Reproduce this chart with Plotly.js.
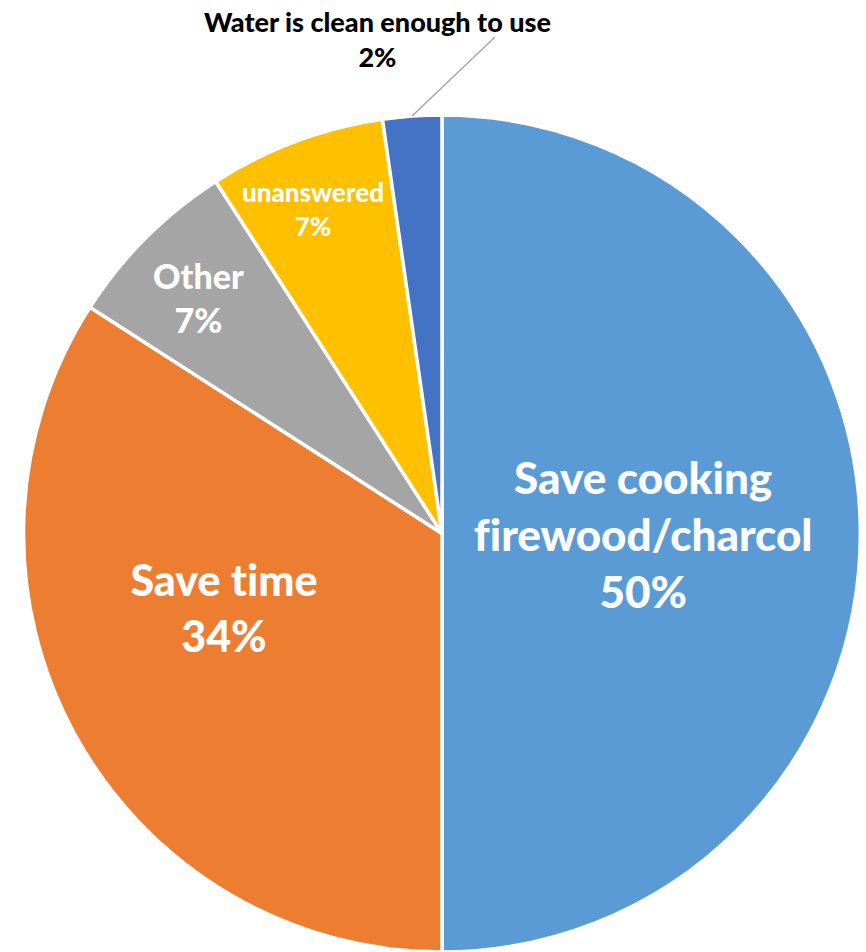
<!DOCTYPE html>
<html>
<head>
<meta charset="utf-8">
<script src="https://cdn.plot.ly/plotly-3.0.1.min.js"></script>
<style>
  html, body { margin: 0; padding: 0; background: #ffffff; }
  #chart { width: 866px; height: 952px; }
  #chart text { font-variant-ligatures: none !important; font-feature-settings: "liga" 0, "clig" 0 !important; }
</style>
</head>
<body>
<div id="chart"></div>
<script>
// Survey responses: main benefit reported
const labels = [
  "Save cooking<br>firewood/charcol",
  "Save time",
  "Other",
  "unanswered",
  "Water is clean enough to use"
];
const counts = [22, 15, 3, 3, 1];
const colors = ["#5B9BD5", "#ED7D31", "#A5A5A5", "#FFC000", "#4472C4"];

// label styling / placement (radius as a fraction of the pie radius,
// angle nudge in degrees away from the slice bisector)
const labelSizes = [44, 43, 34, 26, 27];
const labelRadius = [0.48, 0.55, 0.81, 0.835];
const labelNudge = [0, 10, -0.8, -1.2];

const W = 866, H = 952;
const margin = { l: 23, r: 5, t: 115, b: 0, pad: 0 };
const plotW = W - margin.l - margin.r;
const plotH = H - margin.t - margin.b;

// pixel -> paper helpers
const px2x = px => (px - margin.l) / plotW;
const py2y = py => 1 - (py - margin.t) / plotH;

const total = counts.reduce((a, b) => a + b, 0);
const pcts = counts.map(v => Math.round(100 * v / total));

// mid-angle of each slice, clockwise from 12 o'clock (degrees)
const midAngles = [];
let acc = 0;
counts.forEach(v => { midAngles.push((acc + v / 2) / total * 360); acc += v; });

// point on a circle of radius r (fraction of pie radius) at angle a (deg)
const polar = (a, r) => {
  const t = a * Math.PI / 180;
  return { x: 0.5 + 0.5 * r * Math.sin(t), y: 0.5 + 0.5 * r * Math.cos(t) };
};

const trace = {
  type: "pie",
  labels: labels,
  values: counts,
  sort: false,
  direction: "clockwise",
  rotation: 0,
  marker: { colors: colors, line: { color: "#ffffff", width: 3.5 } },
  textinfo: "none",
  hoverinfo: "label+percent",
  showlegend: false,
  domain: { x: [0, 1], y: [0, 1] }
};

// labels drawn inside the larger slices
const annotations = labelRadius.map((r, i) => {
  const p = polar(midAngles[i] + labelNudge[i], r);
  return {
    xref: "paper", yref: "paper",
    x: p.x, y: p.y,
    xanchor: "center", yanchor: "middle",
    showarrow: false,
    text: labels[i] + "<br>" + pcts[i] + "%",
    font: { family: "Lato", size: labelSizes[i], color: "#ffffff", weight: 900 }
  };
});

// the smallest slice gets an outside label with a leader line
const last = counts.length - 1;
const rim = polar(midAngles[last], 1);
annotations.push({
  xref: "paper", yref: "paper",
  x: px2x(377), y: py2y(39),
  xanchor: "center", yanchor: "middle",
  showarrow: false,
  text: labels[last] + "<br>" + pcts[last] + "%",
  font: { family: "Lato", size: labelSizes[last], color: "#000000", weight: 900 }
});

const layout = {
  width: W,
  height: H,
  margin: margin,
  paper_bgcolor: "#ffffff",
  plot_bgcolor: "#ffffff",
  showlegend: false,
  shapes: [{
    type: "line",
    xref: "paper", yref: "paper",
    x0: rim.x, y0: rim.y,
    x1: px2x(495), y1: py2y(37),
    line: { color: "#A6A6A6", width: 1.5 }
  }],
  annotations: annotations
};

Plotly.newPlot("chart", [trace], layout, { displayModeBar: false, staticPlot: true });
</script>
</body>
</html>
